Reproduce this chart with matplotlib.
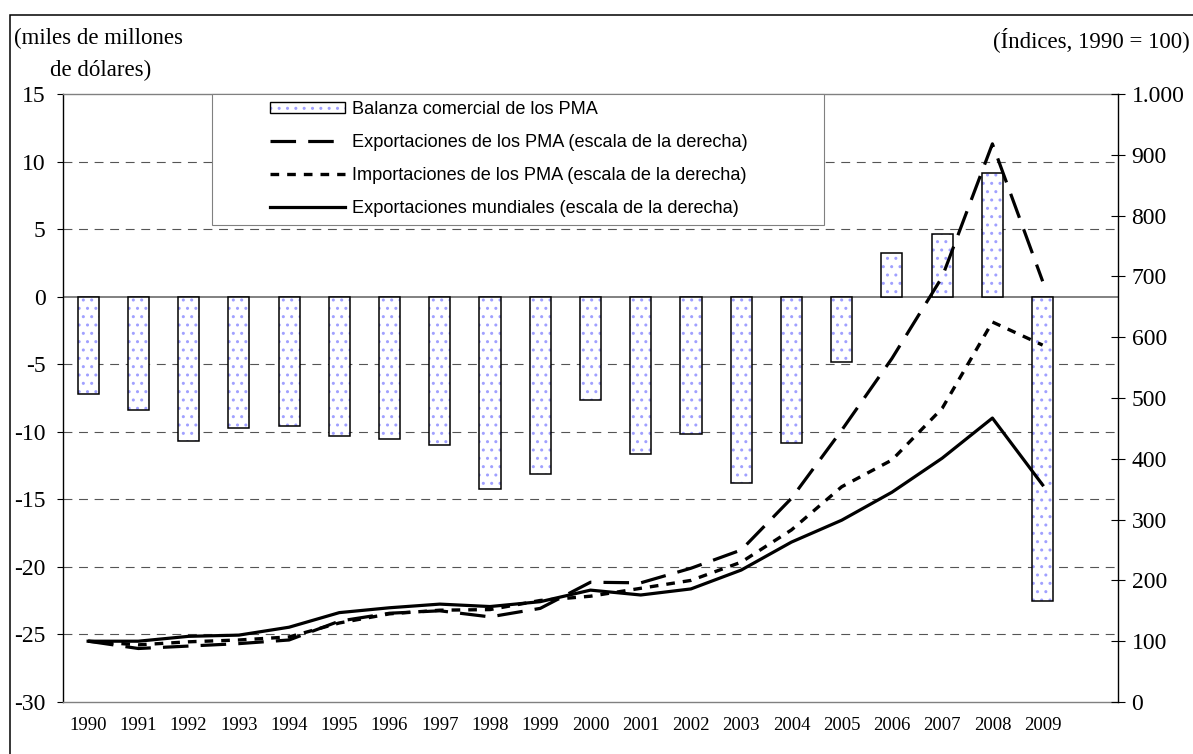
import numpy as np
import matplotlib
matplotlib.use("Agg")
import matplotlib.pyplot as plt
from matplotlib.patches import Rectangle
from matplotlib.ticker import FuncFormatter
from matplotlib.legend_handler import HandlerTuple

# -----------------------------
# Data
# -----------------------------
years = [str(y) for y in range(1990, 2010)]

# Balanza comercial de los PMA (miles de millones de dólares, eje izq.)
balanza = [-7.2, -8.4, -10.7, -9.7, -9.6, -10.3, -10.5, -11.0, -14.2, -13.1,
           -7.65, -11.65, -10.2, -13.8, -10.8, -4.85, 3.2, 4.65, 9.17, -22.5]

# Índices 1990 = 100 (eje der.)
export_pma = [100, 88, 92, 96, 102, 133, 146, 150, 140, 154,
              197, 196, 220, 250, 335, 447, 565, 699, 918, 692]
import_pma = [100, 94, 99, 102, 107, 130, 145, 151, 152, 167,
              174, 187, 200, 230, 283, 354, 398, 483, 625, 587]
export_mundo = [100, 100, 108, 110, 123, 147, 155, 161, 157, 165,
                184, 176, 186, 217, 263, 299, 345, 401, 467, 357]

labels = ["Balanza comercial de los PMA",
          "Exportaciones de los PMA (escala de la derecha)",
          "Importaciones de los PMA (escala de la derecha)",
          "Exportaciones mundiales (escala de la derecha)"]

# -----------------------------
# Figure
# -----------------------------
plt.rcParams['font.family'] = ['Liberation Serif', 'DejaVu Serif']
plt.rcParams['axes.unicode_minus'] = False
plt.rcParams['hatch.linewidth'] = 1.0

W, H = 1193, 754
fig = plt.figure(figsize=(W / 100, H / 100), dpi=100)
ax = fig.add_axes([63 / W, 52 / H, 1055 / W, 608 / H])
ax2 = ax.twinx()

x = np.arange(len(years))

# bars: dotted fill + black outline
ax.bar(x, balanza, width=0.42, color='white', edgecolor='#a0a0ff',
       linewidth=0, hatch='..', zorder=2)
ax.bar(x, balanza, width=0.42, fill=False, edgecolor='black',
       linewidth=1.1, zorder=3)

# grid on the left scale
for v in [-25, -20, -15, -10, -5, 5, 10]:
    ax.axhline(v, color='#555555', lw=0.8, dashes=(8, 6), zorder=1)
ax.axhline(0, color='#808080', lw=1.4, zorder=1)

ax.set_xlim(-0.5, 20.5)
ax.set_ylim(-30, 15)
ax.set_yticks(range(-30, 16, 5))
ax.set_xticks(x)
ax.set_xticklabels(years, fontsize=13.5)
ax.tick_params(axis='x', length=0, pad=11)
ax.tick_params(axis='y', direction='out', length=4.5, width=0.8,
               labelsize=17, pad=8)

for s in ['top', 'bottom']:
    ax.spines[s].set_color('#808080')
    ax.spines[s].set_linewidth(1.0)
ax.spines['left'].set_linewidth(1.0)
ax.spines['right'].set_visible(False)

# lines on right scale
l1, = ax2.plot(x, export_pma, color='black', lw=2.3, dashes=(8, 3.8),
               dash_capstyle='butt')
l2, = ax2.plot(x, import_pma, color='black', lw=2.4, dashes=(2.6, 2.4),
               dash_capstyle='butt')
l3, = ax2.plot(x, export_mundo, color='black', lw=2.3)

ax2.set_ylim(0, 1000)
ax2.set_yticks(range(0, 1001, 100))
ax2.yaxis.set_major_formatter(
    FuncFormatter(lambda v, p: f"{int(v):,}".replace(',', '.')))
ax2.tick_params(axis='y', direction='inout', length=9.5, width=0.8,
                labelsize=17, pad=5)
for s in ['top', 'bottom', 'left']:
    ax2.spines[s].set_visible(False)
ax2.spines['right'].set_linewidth(1.0)

for lbl in ax.get_yticklabels() + ax2.get_yticklabels() + ax.get_xticklabels():
    lbl.set_fontfamily('Liberation Serif')

# legend box
box = Rectangle((212 / W, 1 - 225 / H), (824 - 212) / W, 131 / H,
                transform=fig.transFigure, facecolor='white',
                edgecolor='#808080', lw=0.8, zorder=4, clip_on=False)
ax2.add_patch(box)

bar_fill = Rectangle((0, 0), 1, 1, facecolor='white', edgecolor='#a0a0ff',
                     hatch='..', lw=0)
bar_edge = Rectangle((0, 0), 1, 1, fill=False, edgecolor='black', lw=1.0)
leg = ax2.legend([(bar_fill, bar_edge), l1, l2, l3], labels,
                 handler_map={tuple: HandlerTuple(ndivide=1, pad=0)},
                 loc='upper left', bbox_to_anchor=(270 / W, 1 - 101 / H),
                 bbox_transform=fig.transFigure, frameon=False,
                 prop={'family': 'Liberation Sans', 'size': 13.1},
                 handlelength=4.1, handleheight=0.55, handletextpad=0.4,
                 labelspacing=0.88, borderpad=0, borderaxespad=0)
leg.set_zorder(5)

# axis titles
fig.text(14 / W, 1 - 38 / H, "(miles de millones", fontsize=16.5,
         ha='left', va='center')
fig.text(50 / W, 1 - 70 / H, "de dólares)", fontsize=16.5,
         ha='left', va='center')
fig.text(1190 / W, 1 - 40 / H, "(Índices, 1990 = 100)", fontsize=16.5,
         ha='right', va='center')

# outer frame
fig.patches.append(Rectangle((10 / W, -0.01), 1.0, 1 - 15 / H + 0.01,
                             transform=fig.transFigure, fill=False,
                             edgecolor='black', lw=1.1))

fig.savefig("out.png", dpi=100)
